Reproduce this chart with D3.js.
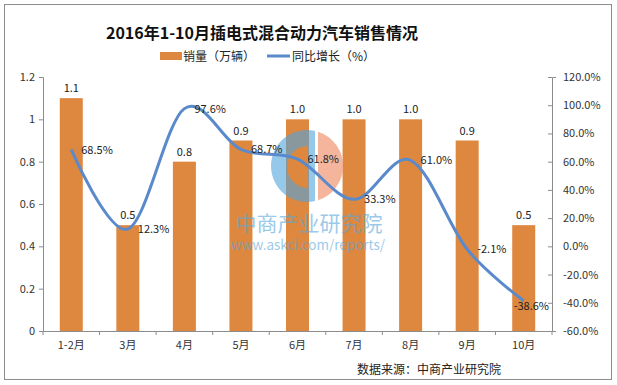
<!DOCTYPE html>
<html>
<head>
<meta charset="utf-8">
<script src="https://cdn.jsdelivr.net/npm/d3@7"></script>
<style>
  body { margin: 0; background: #fff; }
  text { font-family: "Noto Sans CJK SC", "DejaVu Sans", sans-serif; }
</style>
</head>
<body>
<div id="chart"></div>
<script>
// data
const months = ["1-2月", "3月", "4月", "5月", "6月", "7月", "8月", "9月", "10月"];
const sales = [1.1, 0.5, 0.8, 0.9, 1.0, 1.0, 1.0, 0.9, 0.5];
const growth = [68.5, 12.3, 97.6, 68.7, 61.8, 33.3, 61.0, -2.1, -38.6];
const leftTicks = [0, 0.2, 0.4, 0.6, 0.8, 1, 1.2];
const rightTicks = [-60, -40, -20, 0, 20, 40, 60, 80, 100, 120];

const W = 617, H = 385;
const m = { left: 43, right: 552, top: 77, bottom: 331 };

const svg = d3.select("#chart").append("svg")
    .attr("width", W)
    .attr("height", H);

// frame
svg.append("rect")
    .attr("x", 4.5).attr("y", 4.5)
    .attr("width", 607).attr("height", 375)
    .attr("fill", "#fff")
    .attr("stroke", "#8c8c8c");

// title
svg.append("text")
    .attr("x", 262).attr("y", 39)
    .attr("text-anchor", "middle")
    .attr("font-size", 16)
    .attr("font-weight", "bold")
    .attr("fill", "#111")
    .text("2016年1-10月插电式混合动力汽车销售情况");

// legend
const barColor = "#DE873F";
const lineColor = "#5A8ACB";
svg.append("rect")
    .attr("x", 160).attr("y", 52).attr("width", 22).attr("height", 8)
    .attr("fill", barColor);
svg.append("text")
    .attr("x", 183).attr("y", 61)
    .attr("font-size", 12).attr("fill", "#222")
    .text("销量（万辆）");
svg.append("line")
    .attr("x1", 267).attr("x2", 290).attr("y1", 56).attr("y2", 56)
    .attr("stroke", lineColor).attr("stroke-width", 3);
svg.append("text")
    .attr("x", 292).attr("y", 61)
    .attr("font-size", 12).attr("fill", "#222")
    .text("同比增长（%）");

// scales
const x = d3.scaleBand().domain(months).range([m.left, m.right]).paddingInner(0).paddingOuter(0);
const yL = d3.scaleLinear().domain([0, 1.2]).range([m.bottom, m.top]);
const yR = d3.scaleLinear().domain([-60, 120]).range([m.bottom, m.top]);

// bars
const bw = 23;
svg.append("g")
    .selectAll("rect")
    .data(months)
    .enter()
    .append("rect")
    .attr("x", (d) => x(d) + x.bandwidth() / 2 - bw / 2)
    .attr("y", (d, i) => yL(sales[i]))
    .attr("width", bw)
    .attr("height", (d, i) => yL(0) - yL(sales[i]))
    .attr("fill", barColor);

// watermark (sits over the bars, under the line)
const wm = svg.append("g");
wm.append("path")
    .attr("d", "M315,130.9 A36,36 0 1,0 315,201.1 Z M308,146 A21,21 0 0,0 308,188 Z")
    .attr("fill-rule", "evenodd")
    .attr("fill", "#4fa3da")
    .attr("opacity", 0.6);
wm.append("path")
    .attr("d", "M318,131.7 A36,36 0 0,1 318,200.3 Z")
    .attr("fill", "#f3a285")
    .attr("opacity", 0.8);
wm.append("text")
    .attr("x", 309).attr("y", 231)
    .attr("text-anchor", "middle")
    .attr("font-size", 21)
    .attr("fill", "#5aa7db")
    .attr("opacity", 0.6)
    .text("中商产业研究院");
wm.append("text")
    .attr("x", 308).attr("y", 250)
    .attr("text-anchor", "middle")
    .attr("font-size", 13.5)
    .attr("fill", "#5aa7db")
    .attr("opacity", 0.6)
    .text("www.askci.com/reports/");

// bar labels
svg.append("g")
    .selectAll("text")
    .data(months)
    .enter()
    .append("text")
    .attr("x", (d) => x(d) + x.bandwidth() / 2)
    .attr("y", (d, i) => yL(sales[i]) - 6)
    .attr("text-anchor", "middle")
    .attr("font-size", 11)
    .attr("fill", "#222")
    .text((d, i) => sales[i].toFixed(1));

// line
const pts = months.map((d, i) => [x(d) + x.bandwidth() / 2, yR(growth[i])]);
svg.append("path")
    .attr("d", d3.line().curve(d3.curveCatmullRom.alpha(0))(pts))
    .attr("fill", "none")
    .attr("stroke", lineColor)
    .attr("stroke-width", 3);

svg.append("g")
    .selectAll("text")
    .data(months)
    .enter()
    .append("text")
    .attr("x", (d, i) => pts[i][0] + 10)
    .attr("y", (d, i) => pts[i][1] + 4)
    .attr("font-size", 11)
    .attr("fill", "#222")
    .text((d, i) => growth[i].toFixed(1) + "%")
    .each(function () {
        // keep labels inside the plot area
        const w = this.getComputedTextLength();
        const x0 = +this.getAttribute("x");
        if (x0 + w > m.right - 3) {
            this.setAttribute("x", m.right - 3 - w);
            this.setAttribute("y", +this.getAttribute("y") + 5);
        }
    });

// axes
const axisColor = "#8c8c8c";
const gL = svg.append("g")
    .attr("transform", `translate(${m.left},0)`)
    .call(d3.axisLeft(yL).tickValues(leftTicks).tickSize(4).tickPadding(4).tickFormat(d3.format("")));
const gR = svg.append("g")
    .attr("transform", `translate(${m.right},0)`)
    .call(d3.axisRight(yR).tickValues(rightTicks).tickSize(4).tickPadding(7).tickFormat((d) => d.toFixed(1) + "%"));
gR.selectAll(".tick line").attr("x2", -4);
const gX = svg.append("g")
    .attr("transform", `translate(0,${m.bottom})`)
    .call(d3.axisBottom(x).tickSize(0).tickPadding(10));
// category boundary ticks
gX.selectAll(".sep")
    .data(months.concat(["end"]))
    .enter()
    .append("line")
    .attr("class", "sep")
    .attr("x1", (d, i) => m.left + i * x.bandwidth())
    .attr("x2", (d, i) => m.left + i * x.bandwidth())
    .attr("y1", 0).attr("y2", 4)
    .attr("stroke", axisColor);

[gL, gR, gX].forEach((g) => {
    g.select(".domain").attr("stroke", axisColor);
    g.selectAll(".tick line").attr("stroke", axisColor);
    g.selectAll(".tick text")
        .attr("font-size", 11)
        .attr("fill", "#333")
        .style("font-family", '"Noto Sans CJK SC", "DejaVu Sans", sans-serif');
});

// source
svg.append("text")
    .attr("x", 501).attr("y", 374)
    .attr("text-anchor", "end")
    .attr("font-size", 12)
    .attr("fill", "#222")
    .text("数据来源：中商产业研究院");
</script>
</body>
</html>
